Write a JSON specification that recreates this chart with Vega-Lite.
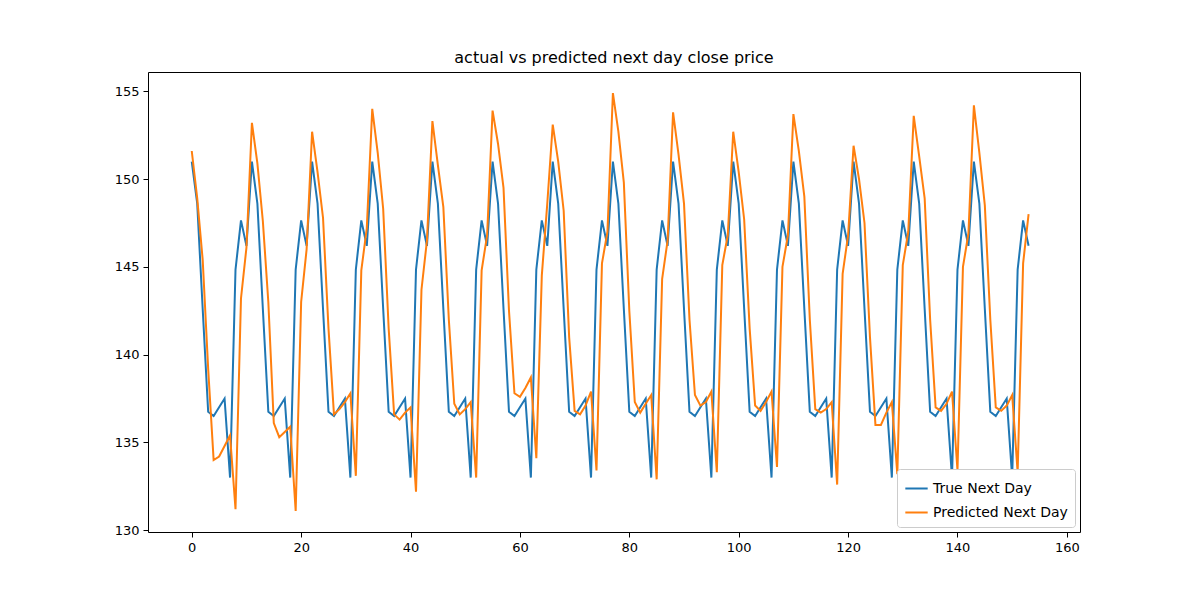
{
  "$schema": "https://vega.github.io/schema/vega-lite/v6.json",
  "width": 932,
  "height": 460,
  "autosize": {"type": "none"},
  "padding": {"left": 148, "top": 72, "right": 120, "bottom": 68},
  "title": {"text": "actual vs predicted next day close price", "fontSize": 16, "font": "DejaVu Sans", "fontWeight": "normal", "color": "black", "offset": 6},
  "data": {
    "values": [
      {"x":0,"t":151.0,"p":151.6},{"x":1,"t":148.6,"p":148.9},{"x":2,"t":142.6,"p":145.4},{"x":3,"t":136.75,"p":139.2},{"x":4,"t":136.5,"p":134.0},{"x":5,"t":137.0,"p":134.2},{"x":6,"t":137.5,"p":134.8},{"x":7,"t":133.0,"p":135.4},{"x":8,"t":144.85,"p":131.2},{"x":9,"t":147.65,"p":143.2},{"x":10,"t":146.2,"p":146.1},
      {"x":11,"t":151.0,"p":153.2},{"x":12,"t":148.6,"p":150.9},{"x":13,"t":142.6,"p":147.6},{"x":14,"t":136.75,"p":143.0},{"x":15,"t":136.5,"p":136.1},{"x":16,"t":137.0,"p":135.3},{"x":17,"t":137.5,"p":135.6},{"x":18,"t":133.0,"p":135.9},{"x":19,"t":144.85,"p":131.1},{"x":20,"t":147.65,"p":143.0},{"x":21,"t":146.2,"p":146.0},
      {"x":22,"t":151.0,"p":152.7},{"x":23,"t":148.6,"p":150.4},{"x":24,"t":142.6,"p":147.8},{"x":25,"t":136.75,"p":141.5},{"x":26,"t":136.5,"p":136.6},{"x":27,"t":137.0,"p":136.9},{"x":28,"t":137.5,"p":137.3},{"x":29,"t":133.0,"p":137.8},{"x":30,"t":144.85,"p":133.1},{"x":31,"t":147.65,"p":144.8},{"x":32,"t":146.2,"p":147.2},
      {"x":33,"t":151.0,"p":154.0},{"x":34,"t":148.6,"p":151.5},{"x":35,"t":142.6,"p":148.3},{"x":36,"t":136.75,"p":141.5},{"x":37,"t":136.5,"p":136.6},{"x":38,"t":137.0,"p":136.3},{"x":39,"t":137.5,"p":136.7},{"x":40,"t":133.0,"p":137.0},{"x":41,"t":144.85,"p":132.2},{"x":42,"t":147.65,"p":143.7},{"x":43,"t":146.2,"p":146.5},
      {"x":44,"t":151.0,"p":153.3},{"x":45,"t":148.6,"p":150.8},{"x":46,"t":142.6,"p":148.4},{"x":47,"t":136.75,"p":142.0},{"x":48,"t":136.5,"p":137.2},{"x":49,"t":137.0,"p":136.6},{"x":50,"t":137.5,"p":136.9},{"x":51,"t":133.0,"p":137.3},{"x":52,"t":144.85,"p":133.0},{"x":53,"t":147.65,"p":144.8},{"x":54,"t":146.2,"p":146.8},
      {"x":55,"t":151.0,"p":153.9},{"x":56,"t":148.6,"p":152.0},{"x":57,"t":142.6,"p":149.5},{"x":58,"t":136.75,"p":142.5},{"x":59,"t":136.5,"p":137.8},{"x":60,"t":137.0,"p":137.6},{"x":61,"t":137.5,"p":138.1},{"x":62,"t":133.0,"p":138.7},{"x":63,"t":144.85,"p":134.1},{"x":64,"t":147.65,"p":144.5},{"x":65,"t":146.2,"p":148.6},
      {"x":66,"t":151.0,"p":153.1},{"x":67,"t":148.6,"p":151.0},{"x":68,"t":142.6,"p":148.2},{"x":69,"t":136.75,"p":141.0},{"x":70,"t":136.5,"p":136.8},{"x":71,"t":137.0,"p":136.6},{"x":72,"t":137.5,"p":137.1},{"x":73,"t":133.0,"p":137.9},{"x":74,"t":144.85,"p":133.4},{"x":75,"t":147.65,"p":145.2},{"x":76,"t":146.2,"p":147.0},
      {"x":77,"t":151.0,"p":154.9},{"x":78,"t":148.6,"p":152.7},{"x":79,"t":142.6,"p":149.8},{"x":80,"t":136.75,"p":142.5},{"x":81,"t":136.5,"p":137.3},{"x":82,"t":137.0,"p":136.7},{"x":83,"t":137.5,"p":137.2},{"x":84,"t":133.0,"p":137.7},{"x":85,"t":144.85,"p":132.9},{"x":86,"t":147.65,"p":144.3},{"x":87,"t":146.2,"p":146.5},
      {"x":88,"t":151.0,"p":153.8},{"x":89,"t":148.6,"p":151.4},{"x":90,"t":142.6,"p":148.6},{"x":91,"t":136.75,"p":142.0},{"x":92,"t":136.5,"p":137.7},{"x":93,"t":137.0,"p":137.1},{"x":94,"t":137.5,"p":137.3},{"x":95,"t":133.0,"p":137.9},{"x":96,"t":144.85,"p":133.3},{"x":97,"t":147.65,"p":145.1},{"x":98,"t":146.2,"p":146.8},
      {"x":99,"t":151.0,"p":152.7},{"x":100,"t":148.6,"p":150.4},{"x":101,"t":142.6,"p":147.7},{"x":102,"t":136.75,"p":141.5},{"x":103,"t":136.5,"p":137.1},{"x":104,"t":137.0,"p":136.8},{"x":105,"t":137.5,"p":137.3},{"x":106,"t":133.0,"p":137.9},{"x":107,"t":144.85,"p":133.6},{"x":108,"t":147.65,"p":145.0},{"x":109,"t":146.2,"p":146.8},
      {"x":110,"t":151.0,"p":153.7},{"x":111,"t":148.6,"p":151.6},{"x":112,"t":142.6,"p":149.0},{"x":113,"t":136.75,"p":142.0},{"x":114,"t":136.5,"p":136.9},{"x":115,"t":137.0,"p":136.7},{"x":116,"t":137.5,"p":136.9},{"x":117,"t":133.0,"p":137.3},{"x":118,"t":144.85,"p":132.6},{"x":119,"t":147.65,"p":144.6},{"x":120,"t":146.2,"p":146.8},
      {"x":121,"t":151.0,"p":151.9},{"x":122,"t":148.6,"p":150.0},{"x":123,"t":142.6,"p":147.5},{"x":124,"t":136.75,"p":141.0},{"x":125,"t":136.5,"p":136.0},{"x":126,"t":137.0,"p":136.0},{"x":127,"t":137.5,"p":136.7},{"x":128,"t":133.0,"p":137.3},{"x":129,"t":144.85,"p":133.2},{"x":130,"t":147.65,"p":145.1},{"x":131,"t":146.2,"p":147.0},
      {"x":132,"t":151.0,"p":153.6},{"x":133,"t":148.6,"p":151.3},{"x":134,"t":142.6,"p":148.9},{"x":135,"t":136.75,"p":142.0},{"x":136,"t":136.5,"p":137.0},{"x":137,"t":137.0,"p":136.8},{"x":138,"t":137.5,"p":137.2},{"x":139,"t":133.0,"p":137.9},{"x":140,"t":144.85,"p":133.4},{"x":141,"t":147.65,"p":145.0},{"x":142,"t":146.2,"p":146.9},
      {"x":143,"t":151.0,"p":154.2},{"x":144,"t":148.6,"p":151.5},{"x":145,"t":142.6,"p":148.5},{"x":146,"t":136.75,"p":142.0},{"x":147,"t":136.5,"p":137.0},{"x":148,"t":137.0,"p":136.8},{"x":149,"t":137.5,"p":137.1},{"x":150,"t":133.0,"p":137.7},{"x":151,"t":144.85,"p":133.3},{"x":152,"t":147.65,"p":145.2},{"x":153,"t":146.2,"p":148.0}
    ]
  },
  "transform": [
    {"fold": ["t", "p"], "as": ["key", "value"]},
    {"calculate": "datum.key == 't' ? 'True Next Day' : 'Predicted Next Day'", "as": "series"}
  ],
  "mark": {"type": "line", "strokeWidth": 2},
  "encoding": {
    "x": {
      "field": "x", "type": "quantitative",
      "scale": {"domain": [-8.0, 162.4], "nice": false, "zero": false},
      "axis": {"values": [0, 20, 40, 60, 80, 100, 120, 140, 160], "title": null, "grid": false}
    },
    "y": {
      "field": "value", "type": "quantitative",
      "scale": {"domain": [129.9, 156.1], "nice": false, "zero": false},
      "axis": {"values": [130, 135, 140, 145, 150, 155], "title": null, "grid": false}
    },
    "color": {
      "field": "series", "type": "nominal",
      "scale": {"domain": ["True Next Day", "Predicted Next Day"], "range": ["#1f77b4", "#ff7f0e"]},
      "legend": {
        "title": null, "orient": "bottom-right", "symbolType": "stroke", "symbolStrokeWidth": 2, "symbolSize": 500,
        "labelFontSize": 14, "labelFont": "DejaVu Sans", "labelColor": "black",
        "strokeColor": "#cccccc", "fillColor": "white", "padding": 7, "cornerRadius": 3, "offset": 5, "rowPadding": 4
      }
    },
    "detail": {"field": "series"}
  },
  "config": {
    "view": {"stroke": "black", "strokeWidth": 1},
    "axis": {
      "labelFont": "DejaVu Sans", "labelFontSize": 13, "labelColor": "black",
      "domainColor": "black", "tickColor": "black", "tickSize": 5, "labelPadding": 4, "domain": false
    }
  }
}
